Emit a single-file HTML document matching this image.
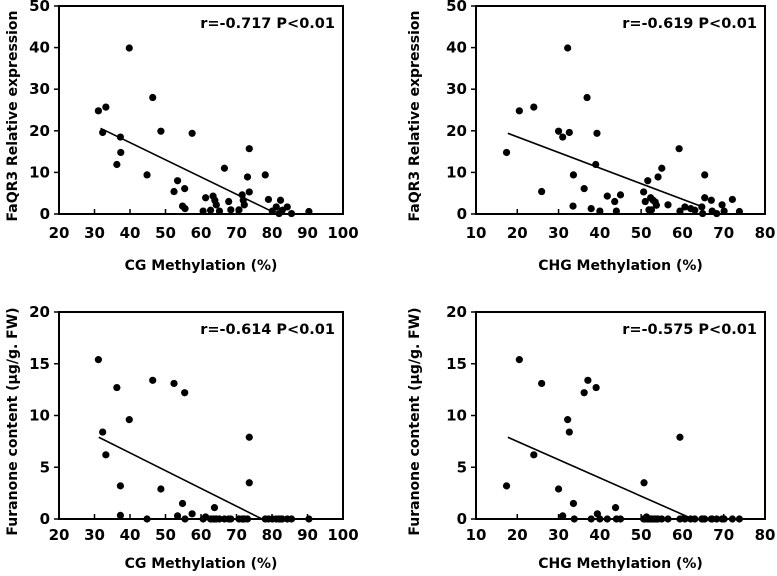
<!DOCTYPE html>
<html><head><meta charset="utf-8"><style>
body{margin:0;background:#fff;}
svg{display:block;font-family:"DejaVu Sans","Liberation Sans",sans-serif;font-weight:bold;}
</style></head><body>
<svg id="fig" width="777" height="576" viewBox="0 0 777 576"></svg>
<script>
const cgX=[31.1,33.2,32.3,39.8,37.3,37.4,36.3,46.4,48.7,44.8,57.5,53.4,52.4,55.4,54.8,55.5,61.3,60.6,62.7,63.4,63.9,64.3,65.2,66.6,67.8,68.4,70.7,71.6,71.9,72.2,73.1,73.6,73.6,78.1,79,80.1,81.2,82,82.4,82.9,84.3,85.5,90.4];
const cgExpr=[24.8,25.7,19.6,39.9,18.5,14.8,11.9,28.0,19.9,9.4,19.4,8.0,5.4,6.1,1.9,1.3,3.9,0.7,0.9,4.3,3.3,2.2,0.7,11.0,3.0,1.0,1.0,4.6,3.3,2.2,8.9,15.7,5.3,9.4,3.5,0.7,1.7,0.1,3.3,0.9,1.7,0.1,0.6];
const chgX=[17.4,20.5,24.0,25.9,30.0,31.0,32.2,32.6,33.6,33.5,36.2,36.9,37.9,39.3,39.0,40.0,41.8,43.6,44.0,45.0,50.6,51.0,51.6,51.9,52.3,52.5,52.9,53.4,53.7,54.1,55.0,56.5,59.2,59.4,60.6,62.0,63.0,64.7,64.9,65.4,65.4,67.0,67.2,68.3,69.6,70.1,72.1,73.8];
const chgExpr=[14.8,24.8,25.7,5.4,19.9,18.5,39.9,19.6,9.4,1.9,6.1,28.0,1.3,19.4,11.9,0.7,4.3,3.0,0.7,4.6,5.3,3.0,8.0,1.0,3.9,1.0,3.3,2.9,2.1,8.9,11.0,2.2,15.7,0.7,1.7,1.3,0.9,1.7,0.1,9.4,3.9,3.3,0.7,0.1,2.2,0.7,3.5,0.6];
const cgFX=[31.1,32.3,33.2,36.3,37.3,37.3,39.8,44.8,46.4,48.7,52.4,53.4,54.8,55.4,55.5,57.5,61.3,60.6,62.7,63.4,63.9,64.3,65.2,66.6,67.8,68.4,70.7,71.6,71.9,72.2,73.1,63.8,73.6,73.6,78.1,79,80.1,81.2,82,82.4,82.9,84.3,85.5,90.4];
const cgFur=[15.4,8.4,6.2,12.7,3.2,0.35,9.6,0,13.4,2.9,13.1,0.3,1.5,12.2,0,0.5,0.2,0,0,0,0,0,0,0,0,0,0,0,0,0,0,1.1,7.9,3.5,0,0,0,0,0,0,0,0,0,0];
const chgFX=[17.4,20.5,24.0,25.9,30.0,31.0,32.2,32.6,33.6,33.8,36.2,37.1,37.9,39.1,39.4,40,41.8,43.8,44,45,50.7,51.3,50.6,51,51.6,51.9,52.3,52.5,52.9,53.4,53.7,54.1,55,56.5,59.4,59.4,60.6,62,63,64.7,64.9,65.4,67,67.2,68.3,69.6,70.1,72.1,73.8];
const chgFur=[3.2,15.4,6.2,13.1,2.9,0.3,9.6,8.4,1.5,0,12.2,13.4,0,12.7,0.5,0,0,1.1,0,0,3.5,0.2,0,0,0,0,0,0,0,0,0,0,0,0,7.9,0,0,0,0,0,0,0,0,0,0,0,0,0,0];
const cgTicks=[20,30,40,50,60,70,80,90,100];
const chgTicks=[10,20,30,40,50,60,70,80];
const exprTicks=[0,10,20,30,40,50];
const furTicks=[0,5,10,15,20];
const fitA=[[31.7,20.6],[80.5,0.4]];
const fitB=[[17.7,19.4],[64.9,1.7]];
const fitC=[[31.2,7.9],[77.2,0]];
const fitD=[[17.7,7.9],[62.5,0]];
const svg=document.getElementById('fig');
const NS='http://www.w3.org/2000/svg';
function mk(tag,attrs,parent){const e=document.createElementNS(NS,tag);for(const k in attrs)e.setAttribute(k,attrs[k]);parent.appendChild(e);return e;}
function panel(id,L,R,T,B,xt,yt,xs,ys,fit,rtxt,xlab,ylab,ylx,tOff,lOff){
  const g=mk('g',{},svg);
  
  
  const x0=xt[0],x1=xt[xt.length-1],y0=yt[0],y1=yt[yt.length-1];
  const X=v=>L+(v-x0)/(x1-x0)*(R-L);
  const Y=v=>B-(v-y0)/(y1-y0)*(B-T);
  const fr=mk('rect',{x:L,y:T,width:R-L,height:B-T,fill:'none',stroke:'#000','stroke-width':2},g);
  
  
  xt.forEach(t=>{
    const l=mk('line',{x1:X(t),x2:X(t),y1:B,y2:B-5,stroke:'#000','stroke-width':1.5},g);
    
    
    const tx=mk('text',{x:X(t),y:B+tOff,'text-anchor':'middle','font-size':15},g);
    tx.textContent=t;
    
    
  });
  yt.forEach(t=>{
    const l=mk('line',{x1:L,x2:L-5,y1:Y(t),y2:Y(t),stroke:'#000','stroke-width':1.5},g);
    
    
    const tx=mk('text',{x:L-9,y:Y(t)+5,'text-anchor':'end','font-size':15},g);
    tx.textContent=t;
    
    
  });
  const fl=mk('line',{x1:X(fit[0][0]),y1:Y(fit[0][1]),x2:X(fit[1][0]),y2:Y(fit[1][1]),stroke:'#000','stroke-width':1.6},g);
  
  
  xs.forEach((v,i)=>{
    const c=mk('circle',{cx:X(v),cy:Y(ys[i]),r:3.6,fill:'#000'},g);
    
    
  });
  const rt=mk('text',{x:R-8,y:T+22,'text-anchor':'end','font-size':14.5},g);
  rt.textContent=rtxt;
  
  
  const xl=mk('text',{x:(L+R)/2,y:B+lOff,'text-anchor':'middle','font-size':14},g);
  xl.textContent=xlab;
  
  
  const cy=(T+B)/2+6;
  const yl=mk('text',{x:ylx,y:cy,'text-anchor':'middle','font-size':14,transform:`rotate(-90 ${ylx} ${cy})`},g);
  yl.textContent=ylab;
  
  
}
panel('panel-cg-expression',59,343,6,214,cgTicks,exprTicks,cgX,cgExpr,fitA,'r=-0.717 P<0.01','CG Methylation (%)','FaQR3 Relative expression',17,24,56);
panel('panel-chg-expression',476,765,6,214,chgTicks,exprTicks,chgX,chgExpr,fitB,'r=-0.619 P<0.01','CHG Methylation (%)','FaQR3 Relative expression',419,24,56);
panel('panel-cg-furanone',59,343,312,519,cgTicks,furTicks,cgFX,cgFur,fitC,'r=-0.614 P<0.01','CG Methylation (%)','Furanone content (μg/g. FW)',17,21,49);
panel('panel-chg-furanone',476,765,312,519,chgTicks,furTicks,chgFX,chgFur,fitD,'r=-0.575 P<0.01','CHG Methylation (%)','Furanone content (μg/g. FW)',419,21,49);
</script>
</body></html>
